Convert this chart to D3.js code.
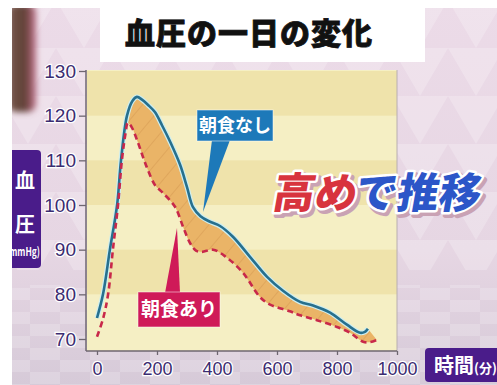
<!DOCTYPE html>
<html>
<head>
<meta charset="utf-8">
<script src="https://cdn.jsdelivr.net/npm/d3@7"></script>
<style>
  body { margin: 0; background: #fff; }
  svg { display: block; }
</style>
</head>
<body>
<svg id="chart" width="497" height="385"></svg>
<script>
/* global d3 */
'use strict';

// axis ticks
const minuteTicks = [0, 200, 400, 600, 800, 1000];
const bpTicks = [70, 80, 90, 100, 110, 120, 130];

// 朝食なし (solid blue)
const noBreakfastMin = [0, 20, 43, 67, 80, 100, 118, 133, 150, 170, 193, 217, 245, 277, 300, 320, 345, 375, 410, 453, 510, 567, 620, 677, 720, 777, 833, 877, 893, 903];
const noBreakfastBp = [74.7, 80, 90, 100, 110, 120, 123.3, 124.2, 123.6, 122.4, 120.8, 117.8, 114, 109, 104, 99.5, 97.5, 96.3, 95.3, 92.9, 88.4, 83.9, 80.8, 78.3, 77.5, 75.9, 73.2, 71.4, 71.6, 72.3];

// 朝食あり (dashed red)
const breakfastMin = [0, 20, 37, 53, 70, 83, 95, 103, 115, 137, 153, 170, 193, 220, 260, 287, 310, 330, 350, 387, 433, 487, 543, 577, 643, 677, 733, 800, 843, 887, 910, 933];
const breakfastBp = [70.5, 74.5, 80, 90, 100, 110, 116, 118.4, 117.5, 113.9, 110.8, 107.8, 104.5, 102.7, 99.6, 95.1, 91.5, 89.8, 89.5, 90, 88.2, 84.8, 79.4, 77.7, 76.2, 75.3, 74.2, 72.7, 71.4, 69.4, 69.3, 69.8];

// the orange gap starts at the peak of 朝食あり
const gapStartMin = 103;

// caption words and their colours
const captionParts = ['高め', 'で推移'];
const captionColors = ['#d8343e', '#2c56c8'];

const svg = d3.select('#chart');
const defs = svg.append('defs');

const x = d3.scaleLinear().domain([0, 1000]).range([97, 397]);
const y = d3.scaleLinear().domain([70, 130]).range([339, 71]);
const plot = { left: 87, right: 397, top: 70, bottom: 351 };

function toPoints(mins, vals) {
  return mins.map((m, i) => ({ m, v: vals[i] }));
}

function drawBackground() {
  const bg = defs.append('linearGradient').attr('id', 'bg').attr('x1', 0).attr('y1', 0).attr('x2', 0).attr('y2', 1);
  bg.append('stop').attr('offset', '0%').attr('stop-color', '#ecdbe8');
  bg.append('stop').attr('offset', '65%').attr('stop-color', '#e6d6e3');
  bg.append('stop').attr('offset', '100%').attr('stop-color', '#d6cad8');

  const tri = defs.append('pattern').attr('id', 'tri')
    .attr('patternUnits', 'userSpaceOnUse').attr('width', 56).attr('height', 48);
  tri.append('path').attr('d', 'M0,0 L28,48 L56,0 Z').attr('fill', '#fff').attr('opacity', 0.22);

  const floor = defs.append('pattern').attr('id', 'floor')
    .attr('patternUnits', 'userSpaceOnUse').attr('width', 60).attr('height', 24);
  floor.append('rect').attr('width', 30).attr('height', 12).attr('fill', '#fff').attr('opacity', 0.18);
  floor.append('rect').attr('x', 30).attr('y', 12).attr('width', 30).attr('height', 12).attr('fill', '#fff').attr('opacity', 0.18);

  svg.append('rect').attr('x', 0).attr('y', 0).attr('width', 497).attr('height', 385).attr('fill', 'url(#bg)');
  svg.append('rect').attr('x', 0).attr('y', 0).attr('width', 497).attr('height', 270).attr('fill', 'url(#tri)');
  svg.append('rect').attr('x', 0).attr('y', 285).attr('width', 497).attr('height', 100).attr('fill', 'url(#floor)');

  // blurred person at the left edge
  const blur = defs.append('filter').attr('id', 'blur').attr('x', '-50%').attr('y', '-50%').attr('width', '200%').attr('height', '200%');
  blur.append('feGaussianBlur').attr('stdDeviation', 3);
  const person = defs.append('linearGradient').attr('id', 'person').attr('x1', 0).attr('y1', 0).attr('x2', 1).attr('y2', 0);
  person.append('stop').attr('offset', '0%').attr('stop-color', '#7a5a4e');
  person.append('stop').attr('offset', '60%').attr('stop-color', '#5e3f35');
  person.append('stop').attr('offset', '100%').attr('stop-color', '#c2708a');
  svg.append('rect').attr('x', 8).attr('y', 4).attr('width', 28).attr('height', 108).attr('rx', 8)
    .attr('fill', 'url(#person)').attr('filter', 'url(#blur)');
}

function drawPlotArea() {
  svg.append('rect')
    .attr('x', plot.left).attr('y', plot.top)
    .attr('width', plot.right - plot.left).attr('height', plot.bottom - plot.top)
    .attr('fill', '#f5efc4');

  const bands = bpTicks.slice(0, -1).map((lo, i) => ({ lo, hi: bpTicks[i + 1], dark: i % 2 === 1 }));
  svg.append('g').selectAll('rect')
    .data(bands.filter(b => b.dark))
    .join('rect')
    .attr('x', plot.left)
    .attr('y', d => y(d.hi))
    .attr('width', plot.right - plot.left)
    .attr('height', d => y(d.lo) - y(d.hi))
    .attr('fill', '#efe3ab');

  svg.append('line')
    .attr('x1', plot.right).attr('x2', plot.right)
    .attr('y1', plot.top).attr('y2', plot.bottom)
    .attr('stroke', '#b8aeb0').attr('stroke-width', 1);
}

function drawCurves() {
  const blue = toPoints(noBreakfastMin, noBreakfastBp);
  const red = toPoints(breakfastMin, breakfastBp);

  const line = d3.line()
    .x(d => x(d.m))
    .y(d => y(d.v))
    .curve(d3.curveCatmullRom);

  const hatch = defs.append('pattern').attr('id', 'hatch')
    .attr('patternUnits', 'userSpaceOnUse').attr('width', 16).attr('height', 16)
    .attr('patternTransform', 'rotate(40)');
  hatch.append('rect').attr('width', 16).attr('height', 16).attr('fill', '#eab467');
  hatch.append('line').attr('x1', 0).attr('y1', 0).attr('x2', 0).attr('y2', 16)
    .attr('stroke', '#d99c55').attr('stroke-width', 1.2);

  // orange band between the two curves
  const upper = blue.filter(d => d.m >= gapStartMin);
  const lower = red.filter(d => d.m >= gapStartMin).reverse();
  svg.append('path')
    .attr('d', line(upper) + 'L' + line(lower).slice(1) + 'Z')
    .attr('fill', 'url(#hatch)');

  svg.append('path')
    .attr('d', line(blue))
    .attr('fill', 'none')
    .attr('stroke', '#cdeef0')
    .attr('stroke-width', 5)
    .attr('stroke-linejoin', 'round');
  svg.append('path')
    .attr('d', line(blue))
    .attr('fill', 'none')
    .attr('stroke', '#27708e')
    .attr('stroke-width', 2.6)
    .attr('stroke-linejoin', 'round');

  svg.append('path')
    .attr('d', line(red))
    .attr('fill', 'none')
    .attr('stroke', '#c8284a')
    .attr('stroke-width', 2.6)
    .attr('stroke-dasharray', '6,4');
}

function styleAxis(g, size) {
  g.select('.domain').remove();
  g.selectAll('.tick line').attr('stroke', '#6e6670').attr('stroke-width', 1.3);
  g.selectAll('.tick text')
    .attr('font-family', '"Liberation Sans", Arial, sans-serif')
    .attr('font-size', size)
    .attr('fill', '#3b2b70')
    .attr('stroke', '#fff')
    .attr('stroke-width', 2.5)
    .attr('paint-order', 'stroke');
}

function drawAxes() {
  const yAxis = svg.append('g')
    .attr('transform', `translate(${plot.left - 1},0)`)
    .call(d3.axisLeft(y).tickValues(bpTicks).tickSize(7).tickPadding(3).tickSizeOuter(0));
  styleAxis(yAxis, 19);

  const xAxis = svg.append('g')
    .attr('transform', `translate(0,${plot.bottom})`)
    .call(d3.axisBottom(x).tickValues(minuteTicks).tickFormat(d3.format('d'))
      .tickSize(4).tickPadding(7).tickSizeOuter(0));
  styleAxis(xAxis, 18);

  svg.append('line')
    .attr('x1', plot.left - 1).attr('x2', plot.left - 1)
    .attr('y1', plot.top).attr('y2', plot.bottom)
    .attr('stroke', '#6e6670').attr('stroke-width', 1.5);
  svg.append('line')
    .attr('x1', plot.left - 1).attr('x2', plot.right)
    .attr('y1', plot.bottom).attr('y2', plot.bottom)
    .attr('stroke', '#6e6670').attr('stroke-width', 1.5);
}

function callout(label, box, pointer, fill, fontSize) {
  const g = svg.append('g');
  g.append('polygon')
    .attr('points', pointer.map(p => p.join(',')).join(' '))
    .attr('fill', fill);
  g.append('rect')
    .attr('x', box.x).attr('y', box.y).attr('width', box.w).attr('height', box.h)
    .attr('fill', fill)
    .attr('stroke', '#fff').attr('stroke-opacity', 0.5).attr('stroke-width', 1);
  g.append('text')
    .attr('x', box.x + box.w / 2).attr('y', box.y + box.h / 2)
    .attr('dy', '0.36em')
    .attr('text-anchor', 'middle')
    .attr('font-family', '"Noto Sans CJK JP", sans-serif')
    .attr('font-weight', 700)
    .attr('font-size', fontSize)
    .attr('fill', '#fff')
    .text(label);
}

function drawCaption() {
  // big italic caption, sized so the whole line stays inside the frame
  const fontSize = 42;
  const offsets = [0, 2 * fontSize - 2];
  const cap = svg.append('g').attr('transform', 'translate(271,208) skewX(-10)');
  const capFont = (sel, i) => sel
    .attr('x', offsets[i])
    .attr('font-family', '"Noto Sans CJK JP", sans-serif')
    .attr('font-weight', 900)
    .attr('font-size', fontSize)
    .text(captionParts[i]);

  captionParts.forEach((part, i) => {
    cap.append('text').call(capFont, i)
      .attr('transform', 'translate(3,3)')
      .attr('fill', '#c9a2b4').attr('stroke', '#c9a2b4').attr('stroke-width', 6).attr('stroke-linejoin', 'round');
  });
  captionParts.forEach((part, i) => {
    cap.append('text').call(capFont, i)
      .attr('fill', captionColors[i])
      .attr('stroke', '#fff').attr('stroke-width', 5).attr('stroke-linejoin', 'round').attr('paint-order', 'stroke');
  });
}

function drawLabels() {
  callout('朝食なし', { x: 197, y: 110, w: 76, h: 31 }, [[212, 140], [230, 140], [203, 212]], '#1d79b9', 18);
  callout('朝食あり', { x: 138, y: 292, w: 82, h: 35 }, [[165, 293], [180, 293], [177, 228]], '#cf1a58', 19);

  drawCaption();

  // y title
  svg.append('rect').attr('x', 4).attr('y', 150).attr('width', 37).attr('height', 118).attr('rx', 4).attr('fill', '#4a1c8a');
  const yTitle = svg.append('g')
    .attr('font-family', '"Noto Sans CJK JP", sans-serif')
    .attr('font-weight', 700)
    .attr('fill', '#fff')
    .attr('text-anchor', 'middle');
  yTitle.append('text').attr('x', 25).attr('y', 188).attr('font-size', 20).text('血');
  yTitle.append('text').attr('x', 25).attr('y', 232).attr('font-size', 20).text('圧');
  yTitle.append('text').attr('x', 23).attr('y', 256).attr('font-size', 12)
    .attr('textLength', 34).attr('lengthAdjust', 'spacingAndGlyphs').text('(mmHg)');

  // x title
  svg.append('rect').attr('x', 425).attr('y', 348).attr('width', 80).attr('height', 34).attr('rx', 4).attr('fill', '#4a1c8a');
  const xTitle = svg.append('text')
    .attr('x', 434).attr('y', 373)
    .attr('font-family', '"Noto Sans CJK JP", sans-serif')
    .attr('font-weight', 700)
    .attr('fill', '#fff');
  xTitle.append('tspan').attr('font-size', 20).text('時間');
  xTitle.append('tspan').attr('font-size', 13).text('(分)');

  // title box
  svg.append('rect').attr('x', 100).attr('y', 0).attr('width', 325).attr('height', 62).attr('fill', '#fff');
  svg.append('text')
    .attr('x', 249).attr('y', 44)
    .attr('text-anchor', 'middle')
    .attr('font-family', '"Noto Sans CJK JP", sans-serif')
    .attr('font-weight', 900)
    .attr('font-size', 30)
    .attr('letter-spacing', 1)
    .attr('fill', '#111')
    .attr('stroke', '#111')
    .attr('stroke-width', 0.8)
    .text('血圧の一日の変化');
}

function drawFrame() {
  // white margin left and top of the captured screen
  svg.append('rect').attr('x', 0).attr('y', 0).attr('width', 12).attr('height', 385).attr('fill', '#fff');
  svg.append('rect').attr('x', 0).attr('y', 0).attr('width', 497).attr('height', 8).attr('fill', '#fff');
}

drawBackground();
drawPlotArea();
drawCurves();
drawAxes();
drawLabels();
drawFrame();
</script>
</body>
</html>
